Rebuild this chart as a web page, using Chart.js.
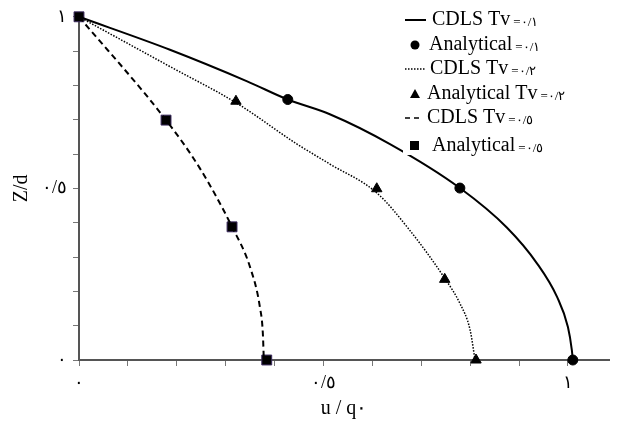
<!DOCTYPE html>
<html>
<head>
<meta charset="utf-8">
<script src="https://cdn.jsdelivr.net/npm/chart.js@4"></script>
<style>
  body { margin: 0; background: #fff; }
  #chart { display: block; }
</style>
</head>
<body>
<canvas id="chart" width="617" height="421"></canvas>
<script>
// datos (u/q0 vs Z/d)
const cdls1X = [0, 0.186, 0.344, 0.427, 0.513, 0.636, 0.779, 0.875, 0.937, 0.978, 1.0, 1.008, 1.01];
const cdls1Z = [1, 0.904, 0.812, 0.759, 0.716, 0.629, 0.501, 0.386, 0.281, 0.183, 0.096, 0.029, 0];
const ana1X = [0.427, 0.779, 1.01];
const ana1Z = [0.759, 0.501, 0];

const cdls2X = [0, 0.186, 0.323, 0.446, 0.513, 0.609, 0.677, 0.748, 0.779, 0.8, 0.81];
const cdls2Z = [1, 0.855, 0.748, 0.629, 0.571, 0.487, 0.377, 0.238, 0.165, 0.087, 0];
const ana2X = [0.321, 0.609, 0.748, 0.812];
const ana2Z = [0.754, 0.499, 0.235, 0];

const cdls5X = [0, 0.178, 0.247, 0.313, 0.35, 0.37, 0.376, 0.378];
const cdls5Z = [1, 0.699, 0.559, 0.388, 0.27, 0.154, 0.078, 0];
const ana5X = [0, 0.178, 0.313, 0.384];
const ana5Z = [1, 0.699, 0.388, 0];

// marcas de los ejes
const tickPos = [0, 0.1, 0.2, 0.3, 0.4, 0.5, 0.6, 0.7, 0.8, 0.9, 1];
const tickVals = [0, 0.5, 1];
const tickLabels = ["٠", "٠/٥", "١"];
const xTitle = "u / q٠";
const yTitle = "Z/d";

// leyenda
const legendNames = ["CDLS Tv", "Analytical", "CDLS Tv", "Analytical Tv", "CDLS Tv", "Analytical"];
const legendValues = ["=٠/١", "=٠/١", "=٠/٢", "=٠/٢", "=٠/٥", "=٠/٥"];

const serif = "'Liberation Serif', 'Times New Roman', serif";

const toPts = (xs, zs) => xs.map((x, i) => ({ x: x, y: zs[i] }));

const labelFor = (v) => {
  for (let i = 0; i < tickVals.length; i++) {
    if (Math.abs(v - tickVals[i]) < 1e-6) return tickLabels[i];
  }
  return "";
};

const fixTicks = (s) => {
  s.ticks = tickPos.map((v) => ({ value: v }));
};

const lineSet = (data, dash, width) => ({
  data: data,
  showLine: true,
  borderColor: "#000",
  borderWidth: width,
  borderDash: dash,
  pointRadius: 0,
  cubicInterpolationMode: "monotone",
  fill: false,
  clip: false,
});

const pointSet = (data, style, r) => ({
  data: data,
  showLine: false,
  pointStyle: style,
  pointRadius: r,
  backgroundColor: "#000",
  borderColor: style === "rect" ? "#3b2a5e" : "#000",
  borderWidth: 1,
  clip: false,
});

// leyenda dibujada a mano (dos tamaños de letra)
const legendPlugin = {
  id: "leyenda",
  afterDraw(chart) {
    const ctx = chart.ctx;
    const rows = [20, 45, 69, 94, 118, 146];
    const kinds = ["solid", "circle", "dot", "triangle", "dash", "square"];
    const textX = [432, 429, 430, 427, 427, 432];
    ctx.save();
    ctx.textBaseline = "middle";
    rows.forEach((y, i) => {
      const k = kinds[i];
      ctx.font = "20px " + serif;
      const w = ctx.measureText(legendNames[i]).width;
      ctx.font = "13px " + serif;
      const w2 = ctx.measureText(legendValues[i]).width;
      // fondo blanco detras de cada fila
      ctx.fillStyle = "#fff";
      ctx.fillRect(403, y - 9, textX[i] + w + w2 + 4 - 403, 18);
      ctx.fillStyle = "#000";
      ctx.strokeStyle = "#000";
      ctx.beginPath();
      if (k === "solid" || k === "dot" || k === "dash") {
        ctx.lineWidth = k === "solid" ? 2 : 1.5;
        ctx.setLineDash(k === "solid" ? [] : k === "dot" ? [1.5, 1.5] : [5, 4]);
        ctx.moveTo(405, y);
        ctx.lineTo(k === "dash" ? 421 : 426, y);
        ctx.stroke();
        ctx.setLineDash([]);
      } else if (k === "circle") {
        ctx.arc(415, y, 4.5, 0, Math.PI * 2);
        ctx.fill();
      } else if (k === "triangle") {
        ctx.moveTo(415, y - 5);
        ctx.lineTo(420, y + 4);
        ctx.lineTo(410, y + 4);
        ctx.closePath();
        ctx.fill();
      } else {
        ctx.fillRect(410, y - 5, 9, 9);
      }
      ctx.font = "20px " + serif;
      ctx.fillText(legendNames[i], textX[i], y);
      ctx.font = "13px " + serif;
      ctx.fillText(legendValues[i], textX[i] + w + 3, y + 3);
    });
    ctx.restore();
  },
};

const ctx = document.getElementById("chart");
new Chart(ctx, {
  type: "scatter",
  data: {
    datasets: [
      lineSet(toPts(cdls1X, cdls1Z), [], 2),
      pointSet(toPts(ana1X, ana1Z), "circle", 5),
      lineSet(toPts(cdls2X, cdls2Z), [1.5, 1.5], 1.5),
      pointSet(toPts(ana2X, ana2Z), "triangle", 6),
      lineSet(toPts(cdls5X, cdls5Z), [6, 4], 2),
      pointSet(toPts(ana5X, ana5Z), "rect", 7),
    ],
  },
  options: {
    responsive: false,
    animation: false,
    layout: { padding: { top: 15, right: 0, left: 0, bottom: 0 } },
    plugins: {
      legend: { display: false },
      tooltip: { enabled: false },
    },
    scales: {
      x: {
        type: "linear",
        min: 0,
        max: 1.084,
        afterBuildTicks: fixTicks,
        afterFit: (s) => { s.height = 61; },
        border: { color: "#555", width: 2 },
        grid: { drawOnChartArea: false, drawTicks: true, tickLength: 6, color: "#777" },
        ticks: {
          autoSkip: false,
          maxRotation: 0,
          padding: 6,
          color: "#000",
          font: { family: serif, size: 18 },
          callback: (v) => labelFor(v),
        },
        title: {
          display: true,
          text: xTitle,
          color: "#000",
          font: { family: serif, size: 20 },
          padding: { top: 0, bottom: 0 },
        },
      },
      y: {
        type: "linear",
        min: 0,
        max: 1,
        afterBuildTicks: fixTicks,
        afterFit: (s) => { s.width = 79; },
        border: { color: "#555", width: 2 },
        grid: { drawOnChartArea: false, drawTicks: true, tickLength: 6, color: "#777" },
        ticks: {
          autoSkip: false,
          padding: 6,
          color: "#000",
          font: { family: serif, size: 18 },
          callback: (v) => labelFor(v),
        },
        title: {
          display: true,
          text: yTitle,
          color: "#000",
          font: { family: serif, size: 20 },
          padding: { top: 10, bottom: 0 },
        },
      },
    },
  },
  plugins: [legendPlugin],
});
</script>
</body>
</html>
